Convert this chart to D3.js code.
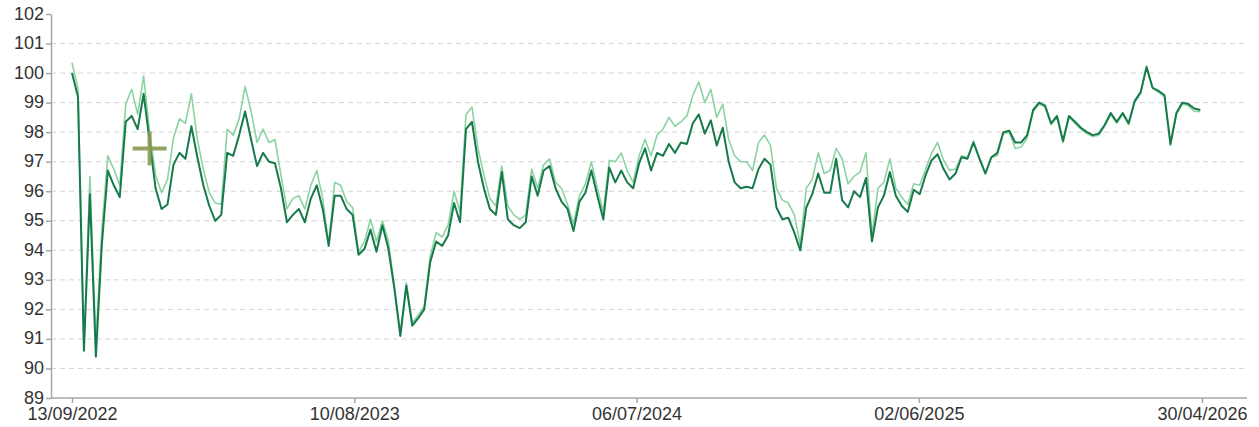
<!DOCTYPE html>
<html>
<head>
<meta charset="utf-8">
<script src="https://cdn.jsdelivr.net/npm/d3@7"></script>
<style>
  body { margin: 0; background: #fff; }
  svg { display: block; font-family: "Liberation Sans", Arial, sans-serif; }
</style>
</head>
<body>
<script>
// weekly readings, first one on 13/09/2022
const startDate = "2022-09-13";

const darkValues = [
  100.0, 99.2, 90.6, 95.9, 90.4, 94.2, 96.7, 96.2, 95.8, 98.35,
  98.55, 98.1, 99.3, 97.7, 96.1, 95.4, 95.55, 96.9, 97.3, 97.1,
  98.2, 97.15, 96.2, 95.5, 95.0, 95.2, 97.3, 97.2, 97.9, 98.7,
  97.75, 96.85, 97.3, 97.0, 96.95, 96.1, 94.95, 95.2, 95.4, 94.95,
  95.75, 96.2, 95.4, 94.15, 95.85, 95.85, 95.4, 95.2, 93.85, 94.05,
  94.7, 93.95, 94.85, 94.05, 92.7, 91.1, 92.8, 91.45, 91.7, 92.0,
  93.6, 94.3, 94.15, 94.5, 95.6, 94.95, 98.1, 98.35, 97.0, 96.1,
  95.4, 95.2, 96.65, 95.05, 94.85, 94.75, 94.95, 96.5, 95.85, 96.7,
  96.85, 96.1, 95.65, 95.4, 94.65, 95.65, 95.95, 96.7, 95.85, 95.05,
  96.8, 96.3, 96.7, 96.3, 96.1, 96.95, 97.45, 96.7, 97.3, 97.2,
  97.6, 97.3, 97.65, 97.6, 98.3, 98.6, 97.95, 98.4, 97.55, 98.15,
  97.0, 96.3, 96.1, 96.15, 96.1, 96.75, 97.1, 96.9, 95.45, 95.05,
  95.1, 94.6, 94.0, 95.45, 95.9, 96.6, 95.95, 95.95, 97.1, 95.7,
  95.45, 96.0, 95.8, 96.45, 94.3, 95.45, 95.85, 96.65, 95.85, 95.5,
  95.3, 96.05, 95.9, 96.55, 97.05, 97.25, 96.75, 96.4, 96.6, 97.15,
  97.1, 97.65, 97.1, 96.6, 97.15, 97.3, 98.0, 98.05, 97.65, 97.65,
  97.9, 98.75, 99.0, 98.9, 98.3, 98.55, 97.7, 98.55, 98.35, 98.15,
  98.0, 97.9, 97.95, 98.25, 98.65, 98.35, 98.65, 98.3, 99.05, 99.35,
  100.2, 99.5, 99.4, 99.25, 97.6, 98.65, 99.0, 98.95, 98.8, 98.75
];

const lightValues = [
  100.35, 99.5, 90.75, 96.5, 90.9, 94.7, 97.2, 96.75, 96.2, 98.95,
  99.45, 98.6, 99.9, 98.0, 96.55, 95.95, 96.4, 97.8, 98.45, 98.3,
  99.3, 97.75, 96.75, 95.95, 95.6, 95.55, 98.1, 97.9, 98.45, 99.55,
  98.7, 97.65, 98.1, 97.65, 97.75, 96.55, 95.4, 95.75, 95.85, 95.4,
  96.2, 96.7, 95.75, 94.2, 96.3, 96.2, 95.65, 95.45, 93.95, 94.3,
  95.05, 94.3, 95.0, 94.3, 92.8, 91.2, 92.9, 91.55, 91.8, 92.1,
  93.8, 94.6, 94.45, 94.85, 96.0, 95.3, 98.6, 98.85, 97.45, 96.55,
  95.75, 95.5, 96.85, 95.5, 95.2, 95.05, 95.2, 96.75, 96.1, 96.9,
  97.1, 96.3, 96.1, 95.55, 94.9, 95.85, 96.25, 97.0, 96.1, 95.3,
  97.05, 97.0, 97.3, 96.7, 96.3, 97.2, 97.75, 97.2, 97.9, 98.1,
  98.5, 98.2, 98.35, 98.55, 99.25, 99.7, 99.0, 99.45, 98.5, 98.95,
  97.75, 97.2, 97.0, 97.0, 96.7, 97.65, 97.9, 97.55, 96.1, 95.7,
  95.6, 95.2, 94.2, 96.1, 96.4, 97.3, 96.6, 96.7, 97.45, 97.1,
  96.25, 96.5, 96.65, 97.3, 94.5, 96.1, 96.3, 97.1, 96.1, 95.8,
  95.55, 96.25, 96.2, 96.75, 97.3, 97.65, 97.05, 96.7, 96.75, 97.2,
  97.15, 97.7, 97.15, 96.6, 97.15, 97.2, 97.95, 98.0, 97.45, 97.5,
  97.8, 98.7, 98.95, 98.85, 98.25, 98.5, 97.65, 98.5, 98.3, 98.1,
  97.95, 97.85, 97.9, 98.2, 98.6, 98.3, 98.6, 98.25, 99.0, 99.3,
  100.25, 99.5, 99.35, 99.2, 97.55, 98.6, 98.95, 98.9, 98.7, 98.7
];

const tickDates = ["2022-09-13", "2023-08-10", "2024-07-06", "2025-06-02", "2026-04-30"];
const yTicks = [89, 90, 91, 92, 93, 94, 95, 96, 97, 98, 99, 100, 101, 102];
const gridTicks = [90, 91, 92, 93, 94, 95, 96, 97, 98, 99, 100, 101];

// the olive "+" marker
const markerDate = "2022-12-13";
const markerValue = 97.45;

const width = 1259;
const height = 427;
const axisColor = "#a6a6a6";

const parse = d3.utcParse("%Y-%m-%d");
const fmt = d3.utcFormat("%d/%m/%Y");
const start = parse(startDate);
const dates = darkValues.map((d, i) => d3.utcDay.offset(start, 7 * i));

const x = d3.scaleUtc()
  .domain([parse(tickDates[0]), parse(tickDates[tickDates.length - 1])])
  .range([72, 1202]);
const y = d3.scaleLinear().domain([89, 102]).range([398, 14]);

const svg = d3.select("body").append("svg")
  .attr("width", width)
  .attr("height", height);

// dashed grid
svg.append("g")
  .selectAll("line")
  .data(gridTicks)
  .join("line")
  .attr("x1", 51)
  .attr("x2", 1245)
  .attr("y1", d => y(d))
  .attr("y2", d => y(d))
  .style("stroke", "#d4d4d4")
  .style("stroke-width", 1)
  .style("stroke-dasharray", "5,4");

// y axis
const yAxis = svg.append("g")
  .attr("transform", "translate(51,0)")
  .call(d3.axisLeft(y).tickValues(yTicks).tickSize(5).tickSizeOuter(0).tickPadding(2));
yAxis.select(".domain").style("stroke", axisColor).style("stroke-width", 1.5);
yAxis.selectAll(".tick line").style("stroke", axisColor).style("stroke-width", 1.5);
yAxis.selectAll("text").style("font-size", "18px").style("fill", "#333").attr("dy", "0.28em");

// x axis
const xAxis = svg.append("g")
  .attr("transform", "translate(0,398)")
  .call(d3.axisBottom(x).tickValues(tickDates.map(parse)).tickFormat(fmt).tickSize(5).tickSizeOuter(0).tickPadding(4));
xAxis.select(".domain").remove();
xAxis.append("line")
  .attr("x1", 51)
  .attr("x2", 1247)
  .style("stroke", axisColor)
  .style("stroke-width", 1.5);
xAxis.selectAll(".tick line").style("stroke", axisColor).style("stroke-width", 1.5);
xAxis.selectAll("text").style("font-size", "18px").style("fill", "#333");

const line = d3.line()
  .x((d, i) => x(dates[i]))
  .y(d => y(d));

svg.append("path")
  .datum(lightValues)
  .attr("d", line)
  .style("fill", "none")
  .style("stroke", "#8bd3a3")
  .style("stroke-width", 1.6)
  .style("stroke-linejoin", "round");

svg.append("path")
  .datum(darkValues)
  .attr("d", line)
  .style("fill", "none")
  .style("stroke", "#177a4a")
  .style("stroke-width", 2)
  .style("stroke-linejoin", "round");

// marker
const mx = x(parse(markerDate));
const my = y(markerValue);
const marker = svg.append("g").style("stroke", "#8a9a52").style("stroke-width", 4).style("opacity", 0.9);
marker.append("line").attr("x1", mx - 17).attr("x2", mx + 17).attr("y1", my).attr("y2", my);
marker.append("line").attr("x1", mx).attr("x2", mx).attr("y1", my - 17).attr("y2", my + 17);
</script>
</body>
</html>
